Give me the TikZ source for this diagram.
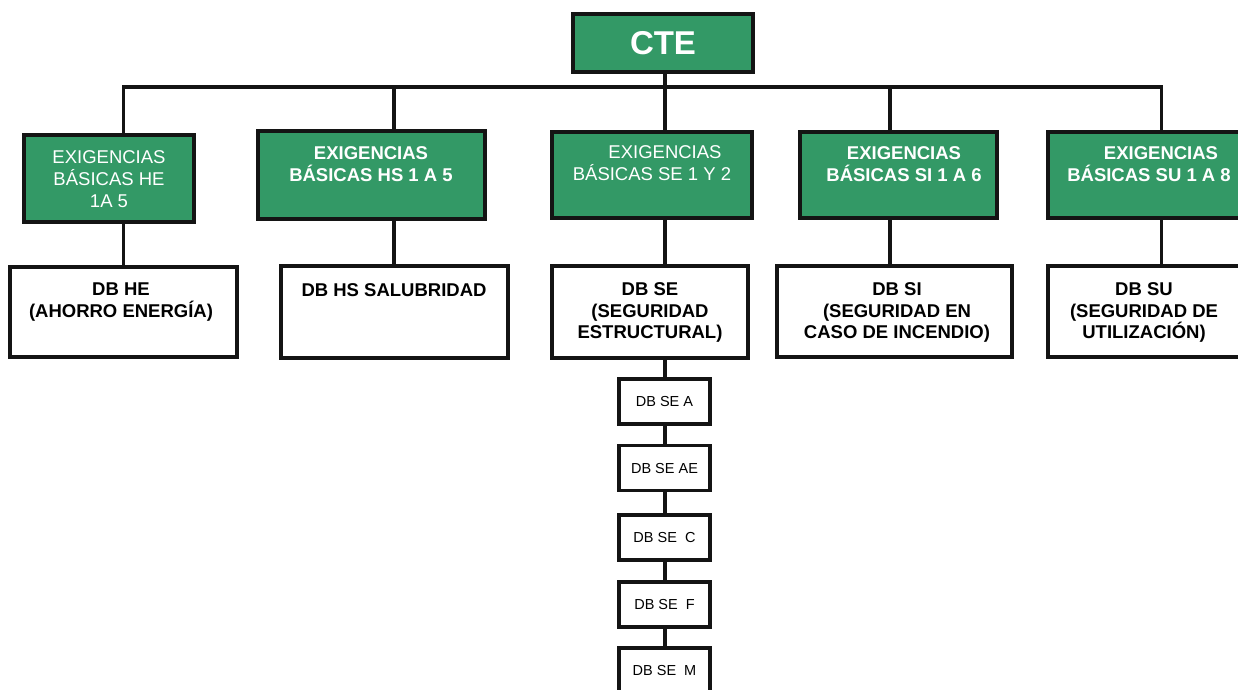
\documentclass[tikz,border=0pt]{standalone}
\usepackage{fontspec}
\setmainfont{Liberation Sans}
\definecolor{cteGreen}{HTML}{339966}
\definecolor{edge}{HTML}{141414}
\tikzset{
  box/.style={draw=edge, line width=3.2pt, inner sep=0pt, rectangle},
  gbox/.style={box, fill=cteGreen},
  wbox/.style={box, fill=white},
  sbox/.style={box, fill=white, minimum width=91pt, minimum height=45pt, font=\fontsize{14.5}{17}\selectfont},
  gtxtN/.style={anchor=north, inner sep=0pt, align=center, text=white, font=\fontsize{18.5}{22}\selectfont},
  gtxtB/.style={anchor=north, inner sep=0pt, align=center, text=white, font=\fontsize{18.5}{22}\selectfont\bfseries},
  wtxt/.style={anchor=north, inner sep=0pt, align=center, text=black, font=\fontsize{18.5}{21.5}\selectfont\bfseries},
  conn/.style={draw=edge, line width=3.2pt, line join=miter},
}
\begin{document}
\begin{tikzpicture}[x=1pt,y=-1pt]
\useasboundingbox (0,0) rectangle (1238,689);
\clip (0,0) rectangle (1238,689);
\fill[white] (0,0) rectangle (1238,689);

% top
\node[gbox, minimum width=180pt, minimum height=58pt, text=white, font=\fontsize{33}{38}\selectfont\bfseries] (cte) at (663,43) {CTE};

% bus coordinates
\coordinate (b1) at (123.5,87);
\coordinate (b2) at (394,87);
\coordinate (b3) at (665,87);
\coordinate (b4) at (890,87);
\coordinate (b5) at (1161.5,87);

% green boxes
\node[gbox, minimum width=170pt, minimum height=87pt] (g1) at (109,178.5) {};
\node[gbox, minimum width=227pt, minimum height=88pt] (g2) at (371.5,175) {};
\node[gbox, minimum width=200pt, minimum height=86pt] (g3) at (652,175) {};
\node[gbox, minimum width=197pt, minimum height=86pt] (g4) at (898.5,175) {};
\node[gbox, minimum width=205pt, minimum height=86pt] (g5) at (1150.5,175) {};

% white boxes
\node[wbox, minimum width=227pt, minimum height=90pt] (w1) at (123.5,312) {};
\node[wbox, minimum width=227pt, minimum height=92pt] (w2) at (394.5,312) {};
\node[wbox, minimum width=196pt, minimum height=92pt] (w3) at (650,312) {};
\node[wbox, minimum width=235pt, minimum height=91pt] (w4) at (894.5,311.5) {};
\node[wbox, minimum width=205pt, minimum height=91pt] (w5) at (1150.5,311.5) {};

% small boxes
\node[sbox] (sA) at (664.5,401.5) {DB SE A};
\node[sbox] (sAE) at (664.5,468) {DB SE AE};
\node[sbox] (sC) at (664.5,537.5) {DB SE\ \ C};
\node[sbox] (sF) at (664.5,604.5) {DB SE\ \ F};
\node[sbox] (sM) at (664.5,670.5) {DB SE\ \ M};

% texts of green boxes
\node[gtxtN] (t1) at (109,150.4) {EXIGENCIAS\\BÁSICAS HE\\1A 5};
\node[gtxtB] (t2) at (371,146.4) {EXIGENCIAS\\BÁSICAS HS 1 A 5};
\node[gtxtN, font=\fontsize{18.5}{21.5}\selectfont] (t3) at (652,145.4) {\hspace*{26pt}EXIGENCIAS\\BÁSICAS SE 1 Y 2};
\node[gtxtB] (t4) at (904,146.4) {EXIGENCIAS\\BÁSICAS SI 1 A 6};
\node[gtxtB] (t5) at (1149,146.4) {\hspace*{24pt}EXIGENCIAS\\BÁSICAS SU 1 A 8};

% texts of white boxes
\node[wtxt] (u1) at (121,282.8) {DB HE\\(AHORRO ENERGÍA)};
\node[wtxt] (u2) at (394,283.3) {DB HS SALUBRIDAD};
\node[wtxt] (u3) at (650,282.8) {DB SE\\(SEGURIDAD\\ESTRUCTURAL)};
\node[wtxt] (u4) at (897,282.8) {DB SI\\(SEGURIDAD EN\\CASO DE INCENDIO)};
\node[wtxt] (u5) at (1144,282.8) {DB SU\\(SEGURIDAD DE\\UTILIZACIÓN)};

% connectors
\draw[conn] (cte.south -| b3) -- (b3);
\draw[conn] (b1 |- g1.north) -- (b1) -- (b5) -- (b5 |- g5.north);
\draw[conn] (b2) -- (b2 |- g2.north);
\draw[conn] (b3) -- (b3 |- g3.north);
\draw[conn] (b4) -- (b4 |- g4.north);

\draw[conn] (g1.south -| b1) -- (w1.north -| b1);
\draw[conn] (g2.south -| b2) -- (w2.north -| b2);
\draw[conn] (g3.south -| b3) -- (w3.north -| b3);
\draw[conn] (g4.south -| b4) -- (w4.north -| b4);
\draw[conn] (g5.south -| b5) -- (w5.north -| b5);

\draw[conn] (w3.south -| b3) -- (sA.north -| b3);
\draw[conn] (sA.south -| b3) -- (sAE.north -| b3);
\draw[conn] (sAE.south -| b3) -- (sC.north -| b3);
\draw[conn] (sC.south -| b3) -- (sF.north -| b3);
\draw[conn] (sF.south -| b3) -- (sM.north -| b3);
\end{tikzpicture}
\end{document}
